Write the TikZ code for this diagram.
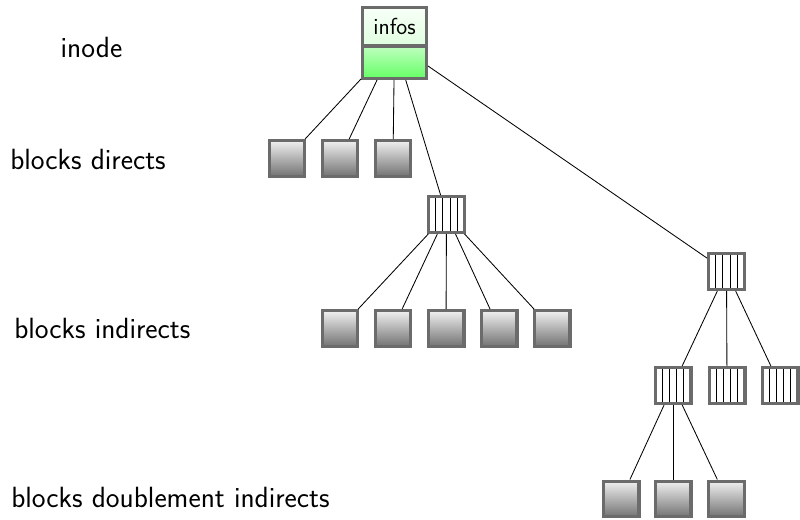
\documentclass[tikz,border=0pt]{standalone}
\usepackage{tikz}
\usetikzlibrary{positioning}
\tikzset{
  label text/.style={font=\sffamily\fontsize{20.8}{24}\selectfont, inner sep=0pt},
  datablock/.style={draw=black!58, line width=2.4pt, minimum width=0.89cm, minimum height=0.89cm,
    top color=black!6, bottom color=black!55},
  ptrblock/.style={draw=black!58, line width=2.4pt, minimum width=0.89cm, minimum height=0.89cm, fill=white,
    path picture={
      \foreach \k in {1,...,4}
        \draw[black, line width=0.7pt] ([xshift=\k*0.178cm]path picture bounding box.south west)
          -- ([xshift=\k*0.178cm]path picture bounding box.north west);
    }},
  inodebox/.style={draw=black!58, line width=2.4pt, minimum width=1.59cm, minimum height=1.765cm,
    path picture={
      \shade[top color=green!3, bottom color=green!20] (path picture bounding box.north west)
        rectangle ([yshift=-0.075cm]path picture bounding box.east);
      \shade[top color=green!25, bottom color=green!60] ([yshift=-0.075cm]path picture bounding box.west)
        rectangle (path picture bounding box.south east);
      \draw[black!58, line width=2.4pt] ([yshift=-0.075cm]path picture bounding box.west)
        -- ([yshift=-0.075cm]path picture bounding box.east);
    }},
  link/.style={line width=0.6pt}
}
\begin{document}
\begin{tikzpicture}[x=0.025cm, y=0.025cm]
    \useasboundingbox (0,0) rectangle (800,519);
    % labels
    \node[label text] (linode) at (91.5,472) {inode};
    \node[label text, anchor=west] (ldirect) at (10,360) {blocks directs};
    \node[label text, anchor=west] (lindirect) at (14,191) {blocks indirects};
    \node[label text, anchor=west] (ldouble) at (11,22) {blocks doublement indirects};
    % inode
    \node[inodebox] (inode) at (394.5,476) {};
    \node[font=\sffamily\fontsize{16.5}{19}\selectfont, inner sep=0pt] (infos) at (394.5,493) {infos};
    % direct blocks
    \node[datablock] (d1) at (287,360.5) {};
    \node[datablock] (d2) at (340,360.5) {};
    \node[datablock] (d3) at (393,360.5) {};
    % indirect
    \node[ptrblock] (ind) at (446.5,304.5) {};
    \node[datablock] (i1) at (340,190.5) {};
    \node[datablock] (i2) at (393,190.5) {};
    \node[datablock] (i3) at (446,190.5) {};
    \node[datablock] (i4) at (499,190.5) {};
    \node[datablock] (i5) at (552,190.5) {};
    % double indirect
    \node[ptrblock] (dind) at (726.5,247.5) {};
    \node[ptrblock] (p1) at (673,133.5) {};
    \node[ptrblock] (p2) at (727,133.5) {};
    \node[ptrblock] (p3) at (780,133.5) {};
    \node[datablock] (l1) at (621,20) {};
    \node[datablock] (l2) at (673,20) {};
    \node[datablock] (l3) at (726.5,20) {};
    % links
    \foreach \c in {d1,d2,d3,ind,dind}
      \draw[link] (inode) -- (\c);
    \foreach \c in {i1,i2,i3,i4,i5}
      \draw[link] (ind) -- (\c);
    \foreach \c in {p1,p2,p3}
      \draw[link] (dind) -- (\c);
    \foreach \c in {l1,l2,l3}
      \draw[link] (p1) -- (\c);
\end{tikzpicture}
\end{document}
